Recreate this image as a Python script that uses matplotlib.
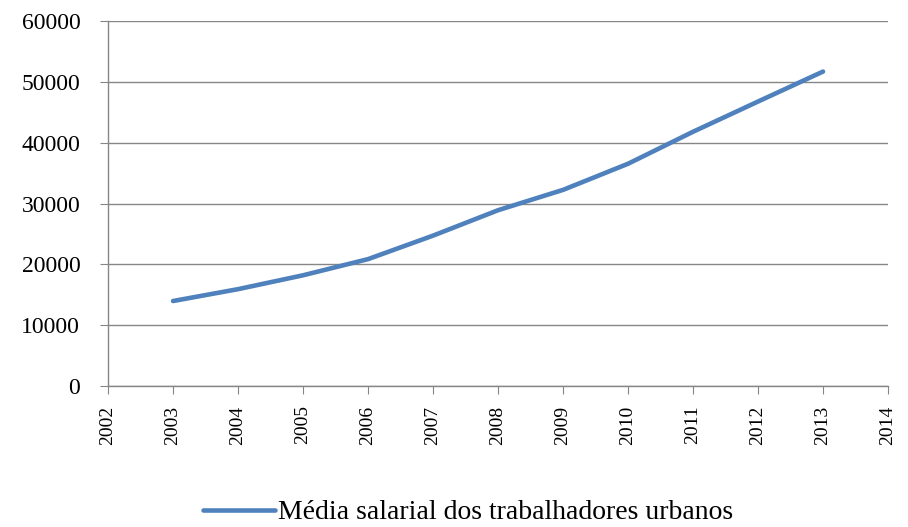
import matplotlib.pyplot as plt

# dados
anos = [2003, 2004, 2005, 2006, 2007, 2008, 2009, 2010, 2011, 2012, 2013]
salario = [13969, 15920, 18200, 20856, 24721, 28898, 32244, 36539, 41799, 46769, 51700]
rotulo = 'Média salarial dos trabalhadores urbanos'

plt.rcParams['font.family'] = ['Liberation Serif', 'DejaVu Serif']

fig = plt.figure(figsize=(9.08, 5.27), dpi=100)
ax = fig.add_axes([0.119, 0.2676, 0.859, 0.6924])

ax.plot(anos, salario, color='#4F81BD', linewidth=3.3, label=rotulo, solid_capstyle='round')

ax.set_xlim(2002, 2014)
ax.set_ylim(0, 60000)
ax.set_xticks(range(2002, 2015))
ax.set_xticklabels([str(a) for a in range(2002, 2015)], rotation=90, fontsize=14)
ax.set_yticks(range(0, 60001, 10000))
ax.tick_params(axis='y', labelsize=17, length=6, color='#868686', pad=14)
ax.tick_params(axis='x', length=6, color='#868686', pad=8)

ax.grid(axis='y', color='#868686', linewidth=1)
ax.set_axisbelow(True)
for s in ['top', 'right']:
    ax.spines[s].set_visible(False)
for s in ['left', 'bottom']:
    ax.spines[s].set_color('#868686')
    ax.spines[s].set_linewidth(1)

fig.legend(loc='center', bbox_to_anchor=(0.515, 0.027), frameon=False, fontsize=20,
           handlelength=2.6, handletextpad=0.1)

fig.savefig('out.png', dpi=100)
